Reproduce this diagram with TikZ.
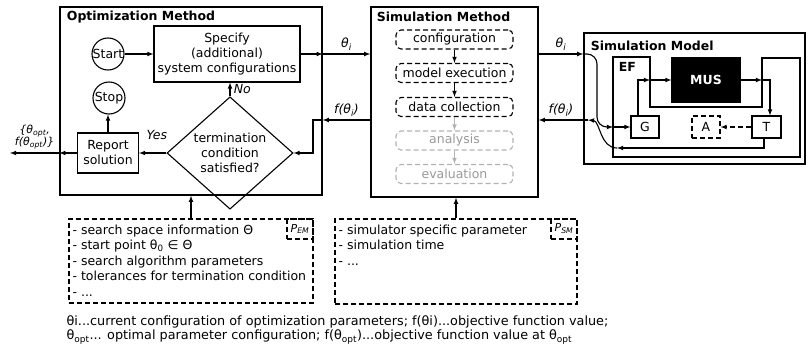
\documentclass[tikz,border=0pt]{standalone}
\usepackage{fontspec}
\setmainfont{DejaVu Sans}
\usetikzlibrary{arrows,shapes.geometric}

\tikzset{
    box/.style={draw,line width=1.1pt,align=center,inner sep=0pt},
    frame/.style={draw,line width=1.4pt,inner sep=0pt},
    title/.style={anchor=west,font=\fontsize{12.5}{15}\selectfont\bfseries},
    dash5/.style={dash pattern=on 5pt off 3pt},
    stepbox/.style={draw,dash5,rounded corners=5pt,line width=1.1pt,minimum width=117pt,minimum height=19pt,inner sep=0pt},
    greystep/.style={stepbox,draw=black!30,text=black!40},
    parambox/.style={draw,dash5,line width=1.1pt,inner sep=0pt},
    lbl/.style={font=\fontsize{12.5}{15}\selectfont\itshape},
}

\begin{document}
\begin{tikzpicture}[x=1pt,y=-1pt,>=latex,line width=1.1pt,
        every node/.style={font=\fontsize{12.5}{15}\selectfont}]
            \useasboundingbox (0,0) rectangle (808,348);

            \node[frame,minimum width=262pt,minimum height=188pt] (OptMethod) at (191,101) {};
            \node[title] (OptTitle) at (63,17) {Optimization Method};
            \node[box,minimum width=146pt,minimum height=56pt] (Specify) at (227,54) {Specify\\(additional)\\system configurations};
            \node[box,circle,minimum size=32pt] (Start) at (108,54) {Start};
            \node[box,circle,minimum size=32pt] (Stop) at (109,98) {Stop};
            \node[box,minimum width=61pt,minimum height=40pt] (Report) at (108,153) {Report\\solution};
            \node[box,diamond,minimum width=126pt,minimum height=81pt] (Cond) at (230,153) {termination\\condition\\satisfied?};

            \node[frame,minimum width=167pt,minimum height=190pt] (SimMethod) at (454.5,102) {};
            \node[title] (SimTitle) at (373,17) {Simulation Method};
            \node[stepbox] (Config) at (454.5,39.5) {configuration};
            \node[stepbox] (Exec) at (454.5,73) {model execution};
            \node[stepbox] (Collect) at (454.5,107) {data collection};
            \node[greystep] (Analysis) at (454.5,140.5) {analysis};
            \node[greystep] (Eval) at (454.5,174) {evaluation};

            \node[frame,minimum width=221pt,minimum height=131pt] (SimModel) at (694.5,98.5) {};
            \node[title] (ModelTitle) at (587,46) {Simulation Model};
            \draw (613,57) -- (650,57) -- (650,107) -- (762,107) -- (762,58) -- (800,58) -- (800,157) -- (613,157) -- cycle;
            \node[title] (EF) at (615,67) {EF};
            \node[box,fill=black,text=white,font=\fontsize{12.5}{15}\selectfont\bfseries,minimum width=68pt,minimum height=44pt] (MUS) at (706,80) {MUS};
            \node[box,minimum width=28pt,minimum height=22pt] (G) at (645,127) {G};
            \node[box,dash5,minimum width=28pt,minimum height=22pt] (A) at (706,127) {A};
            \node[box,minimum width=29pt,minimum height=22pt] (T) at (766.5,127) {T};

            \node[parambox,minimum width=244pt,minimum height=84pt] (ParamEM) at (191,261) {};
            \node[parambox,anchor=north east,minimum width=26pt,minimum height=20pt,font=\fontsize{11}{13}\selectfont\itshape] (EMTag) at (ParamEM.north east) {P\textsubscript{EM}};
            \node[anchor=north west,align=left,inner sep=0pt,font=\fontsize{12.5}{15.5}\selectfont] (EMText) at (72,224) {- search space information Θ\\
                - start point θ\textsubscript{0} ∈ Θ\\
                - search algorithm parameters\\
                - tolerances for termination condition\\
                - ...};
            \node[parambox,minimum width=242pt,minimum height=85pt] (ParamSM) at (456,261.5) {};
            \node[parambox,anchor=north east,minimum width=26pt,minimum height=20pt,font=\fontsize{11}{13}\selectfont\itshape] (SMTag) at (ParamSM.north east) {P\textsubscript{SM}};
            \node[anchor=north west,align=left,inner sep=0pt,font=\fontsize{12.5}{15.5}\selectfont] (SMText) at (338,224) {- simulator specific parameter\\
                - simulation time\\
                - ...};

            \node[anchor=north west,align=left,inner sep=0pt,font=\fontsize{12.8}{14.5}\selectfont] (Legend) at (66,315) {θi...current configuration of optimization parameters; f(θi)...objective function value;\\
                θ\textsubscript{opt}... optimal parameter configuration; f(θ\textsubscript{opt})...objective function value at θ\textsubscript{opt}};

            \draw[->] (Start) to (Specify);
            \draw[->] (Cond.north) to node[lbl,right] {No} (Cond.north |- Specify.south);
            \draw[->] (Cond.west) to node[lbl,above=9pt,pos=0.35] {Yes} (Report.east);
            \draw[->] (Report.north) to (Report.north |- Stop.south);
            \draw[->] (Report.west) to (OptMethod.west |- Report.west);
            \coordinate (OptOut) at (10,153);
            \draw[->] (OptMethod.west |- Report.west) to node[lbl,above,align=center,font=\fontsize{11}{12}\selectfont\itshape] {\{θ\textsubscript{opt},\\f(θ\textsubscript{opt})\}} (OptOut);

            \draw[->] (Specify.east) to (OptMethod.east |- Specify.east);
            \draw[->] (OptMethod.east |- Specify.east) to node[lbl,above] {θ\textsubscript{i}} (SimMethod.west |- Specify.east);
            \draw[->] (SimMethod.west |- 0,120) to node[lbl,above] {f(θ\textsubscript{i})} (OptMethod.east |- 0,120);
            \draw[->] (OptMethod.east |- 0,120) -- (313,120) -- (313,153) -- (Cond.east);

            \draw[->] (Config) to (Exec);
            \draw[->] (Exec) to (Collect);
            \draw[->,black!30] (Collect) to (Analysis);
            \draw[->,black!30] (Analysis) to (Eval);

            \draw[->] (SimMethod.east |- Specify.east) to node[lbl,above] {θ\textsubscript{i}} (SimModel.west |- Specify.east);
            \draw[->] (SimModel.west |- 0,120) to node[lbl,above] {f(θ\textsubscript{i})} (SimMethod.east |- 0,120);
            \draw[->,rounded corners=10pt] (SimModel.west |- Specify.east) -- (597,54) -- (597,127) -- (613,127);
            \draw[->] (613,127) to (G.west);
            \draw[->] ([xshift=-7pt]G.north) |- (650,80);
            \draw[->] (650,80) to (MUS.west);
            \draw[->] (MUS.east) to (762,80);
            \draw[->] (762,80) -| ([xshift=3.5pt]T.north);
            \draw[->,dash5] (T.west) to (A.east);
            \draw[->] ([xshift=-2.5pt]T.south) |- (617,148);
            \draw[->] (617,148) .. controls (600,148) and (600,121) .. (588,120);
            \draw (588,120) to (SimModel.west |- 0,120);

            \draw[->] (ParamEM.north) to (ParamEM.north |- OptMethod.south);
            \draw[->] (ParamSM.north) to (ParamSM.north |- SimMethod.south);
        \end{tikzpicture}
\end{document}
